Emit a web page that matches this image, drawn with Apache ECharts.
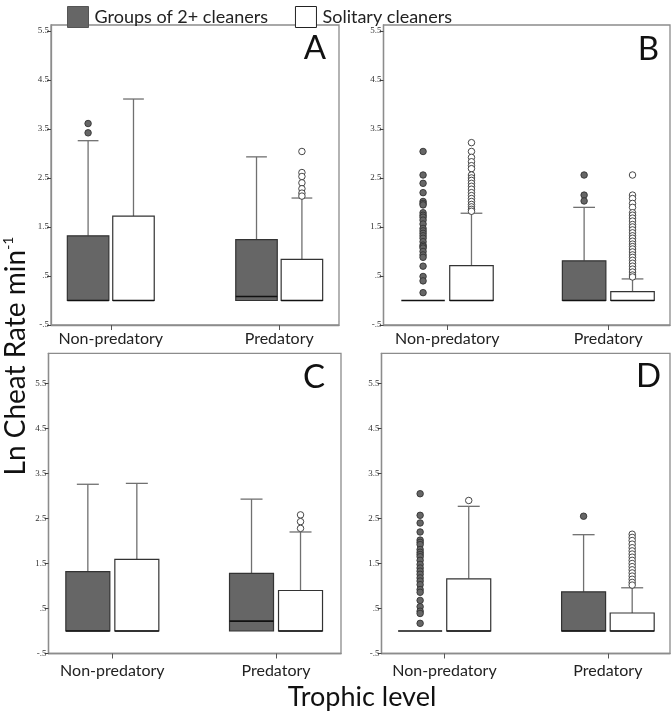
<!DOCTYPE html>
<html>
<head>
<meta charset="utf-8">
<script src="https://cdn.jsdelivr.net/npm/echarts@6/dist/echarts.min.js"></script>
<style>
  html, body { margin: 0; padding: 0; background: #fff; }
  #chart { width: 672px; height: 721px; }
</style>
</head>
<body>
<div id="chart"></div>
<script>
const categories = ['Non-predatory', 'Predatory']
const groups = ['Groups of 2+ cleaners', 'Solitary cleaners']
const yTicks = [-0.5, 0.5, 1.5, 2.5, 3.5, 4.5, 5.5]

// box stats: [whiskerLow, q1, median, q3, whiskerHigh], one row per category
const boxA_groups = [[0, 0, 0, 1.32, 3.26], [0, 0, 0.08, 1.24, 2.93]]
const boxA_solitary = [[0, 0, 0, 1.72, 4.11], [0, 0, 0, 0.84, 2.09]]
const outA_groups = [[3.61, 3.42], []]
const outA_solitary = [[], [3.04, 2.61, 2.53, 2.40, 2.28, 2.19, 2.13]]

const boxB_groups = [[0, 0, 0, 0, 0], [0, 0, 0, 0.81, 1.90]]
const boxB_solitary = [[0, 0, 0, 0.71, 1.78], [0, 0, 0, 0.18, 0.44]]
const outB_groups = [
  [3.04, 2.56, 2.39, 2.20, 2.02, 1.98, 1.95, 1.79, 1.74, 1.70, 1.64, 1.56, 1.47, 1.42,
   1.37, 1.32, 1.27, 1.20, 1.13, 1.10, 1.07, 1.00, 0.93, 0.88, 0.70, 0.49, 0.40, 0.16],
  [2.56, 2.15, 2.03]
]
const outB_solitary = [
  [3.22, 3.04, 2.92, 2.83, 2.75, 2.69, 2.56, 2.50, 2.45, 2.39, 2.33, 2.27, 2.20, 2.14,
   2.08, 2.02, 1.96, 1.91, 1.86, 1.82],
  [2.56, 2.15, 2.08, 1.98, 1.90, 1.79, 1.74, 1.68, 1.62, 1.55, 1.50, 1.44, 1.38, 1.32,
   1.27, 1.21, 1.15, 1.10, 1.05, 0.99, 0.93, 0.88, 0.82, 0.76, 0.70, 0.64, 0.58, 0.52, 0.48]
]

const boxC_groups = [[0, 0, 0, 1.32, 3.26], [0, 0, 0.22, 1.28, 2.93]]
const boxC_solitary = [[0, 0, 0, 1.59, 3.28], [0, 0, 0, 0.90, 2.20]]
const outC_groups = [[], []]
const outC_solitary = [[], [2.58, 2.43, 2.28]]

const boxD_groups = [[0, 0, 0, 0, 0], [0, 0, 0, 0.87, 2.14]]
const boxD_solitary = [[0, 0, 0, 1.16, 2.77], [0, 0, 0, 0.40, 0.96]]
const outD_groups = [
  [3.05, 2.57, 2.40, 2.20, 2.02, 1.97, 1.92, 1.81, 1.75, 1.70, 1.65, 1.57, 1.48, 1.40,
   1.33, 1.26, 1.18, 1.11, 1.03, 0.92, 0.86, 0.68, 0.54, 0.44, 0.39, 0.17],
  [2.55]
]
const outD_solitary = [
  [2.90],
  [2.15, 2.08, 2.01, 1.93, 1.85, 1.78, 1.71, 1.64, 1.57, 1.50, 1.43, 1.36, 1.29, 1.22,
   1.15, 1.08, 1.02]
]

const FONT = 'Lato, "Open Sans", sans-serif'
const COLORS = {
  groupFill: '#666666',
  soloFill: '#ffffff',
  boxLine: '#333333',
  whisker: '#707070',
  frame: '#8c8c8c',
}

// layout for each panel (pixels, axis ranges)
const panels = [
  { letter: 'A', left: 51, top: 25, width: 288, height: 300, xMin: 0.645, xMax: 2.355, yMax: 5.62,
    off: 22.7, bw: 41.5, labelMargin: 6, box: [boxA_groups, boxA_solitary], out: [outA_groups, outA_solitary],
    letterX: 326, letterY: 48 },
  { letter: 'B', left: 383.5, top: 25, width: 286.5, height: 300, xMin: 0.604, xMax: 2.383, yMax: 5.62,
    off: 24.2, bw: 43.5, labelMargin: 6, box: [boxB_groups, boxB_solitary], out: [outB_groups, outB_solitary],
    letterX: 659, letterY: 49 },
  { letter: 'C', left: 48.5, top: 353.3, width: 292.5, height: 300.2, xMin: 0.61, xMax: 2.397, yMax: 6.17,
    off: 24.5, bw: 44, labelMargin: 9, box: [boxC_groups, boxC_solitary], out: [outC_groups, outC_solitary],
    letterX: 325, letterY: 377 },
  { letter: 'D', left: 381.5, top: 353.3, width: 288.5, height: 300.2, xMin: 0.615, xMax: 2.38, yMax: 6.17,
    off: 24.3, bw: 44, labelMargin: 9, box: [boxD_groups, boxD_solitary], out: [outD_groups, outD_solitary],
    letterX: 661, letterY: 376 },
]

function boxRenderer(offset, bw, fill) {
  return function (params, api) {
    const x = api.value(0)
    const cx = api.coord([x, 0])[0] + offset
    const y = i => api.coord([x, api.value(i)])[1]
    const yLo = y(1), yQ1 = y(2), yMed = y(3), yQ3 = y(4), yHi = y(5)
    const half = bw / 2, cap = bw / 4
    const wStyle = { stroke: COLORS.whisker, lineWidth: 1.3 }
    const children = []
    if (yHi < yQ3 - 0.5) {
      children.push({ type: 'line', shape: { x1: cx, y1: yQ3, x2: cx, y2: yHi }, style: wStyle })
      children.push({ type: 'line', shape: { x1: cx - cap, y1: yHi, x2: cx + cap, y2: yHi }, style: wStyle })
    }
    if (yLo > yQ1 + 0.5) {
      children.push({ type: 'line', shape: { x1: cx, y1: yQ1, x2: cx, y2: yLo }, style: wStyle })
      children.push({ type: 'line', shape: { x1: cx - cap, y1: yLo, x2: cx + cap, y2: yLo }, style: wStyle })
    }
    if (yQ1 - yQ3 > 0.5) {
      children.push({ type: 'rect', shape: { x: cx - half, y: yQ3, width: bw, height: yQ1 - yQ3 },
        style: { fill: fill, stroke: COLORS.boxLine, lineWidth: 1.2 } })
    }
    children.push({ type: 'line', shape: { x1: cx - half, y1: yMed, x2: cx + half, y2: yMed }, style: { stroke: '#111', lineWidth: 1.6 } })
    return { type: 'group', children }
  }
}

const grid = [], xAxis = [], yAxis = [], series = [], graphic = []

panels.forEach((p, i) => {
  grid.push({ left: p.left, top: p.top, width: p.width, height: p.height, show: true,
    borderColor: COLORS.frame, borderWidth: 1.3, backgroundColor: '#fff' })
  xAxis.push({
    type: 'value', gridIndex: i, min: p.xMin, max: p.xMax,
    axisLine: { show: true, onZero: false, lineStyle: { color: COLORS.frame, width: 1.3 } },
    axisTick: { show: true, customValues: [1, 2], length: 5, lineStyle: { color: '#555' } },
    axisLabel: { customValues: [1, 2], formatter: v => categories[Math.round(v) - 1] || '',
      fontFamily: FONT, fontSize: 16, color: '#222', margin: p.labelMargin },
    splitLine: { show: false },
  })
  yAxis.push({
    type: 'value', gridIndex: i, min: -0.5, max: p.yMax,
    axisLine: { show: true, lineStyle: { color: COLORS.frame, width: 1.3 } },
    axisTick: { show: true, customValues: yTicks, length: 4, lineStyle: { color: '#444' } },
    axisLabel: { customValues: yTicks, formatter: v => String(v).replace('0.', '.'),
      fontFamily: '"Liberation Serif", serif', fontSize: 9, color: '#333', margin: 2 },
    splitLine: { show: false },
  })
  const fills = [COLORS.groupFill, COLORS.soloFill]
  const offs = [-p.off, p.off]
  groups.forEach((g, gi) => {
    series.push({
      name: g, type: 'custom', xAxisIndex: i, yAxisIndex: i,
      renderItem: boxRenderer(offs[gi], p.bw, fills[gi]),
      data: p.box[gi].map((b, ci) => [ci + 1].concat(b)),
      encode: { x: 0, y: [1, 2, 3, 4, 5] }, silent: true, z: 2,
    })
    const pts = []
    p.out[gi].forEach((vals, ci) => vals.forEach(v => pts.push([ci + 1, v])))
    series.push({
      name: g, type: 'scatter', xAxisIndex: i, yAxisIndex: i, data: pts,
      symbol: 'circle', symbolSize: 6.5, symbolOffset: [offs[gi], 0], silent: true, z: 3,
      itemStyle: { color: gi === 0 ? COLORS.groupFill : '#fff', borderColor: '#333', borderWidth: 0.9, opacity: 1 },
    })
  })
  graphic.push({ type: 'text', x: p.letterX, y: p.letterY,
    style: { text: p.letter, fontFamily: FONT, fontSize: 33, fill: '#111', align: 'right', verticalAlign: 'middle' } })
})

graphic.push({ type: 'text', x: 16, y: 356, rotation: Math.PI / 2,
  style: { text: '{a|Ln Cheat Rate min}{s|-1}', align: 'center', verticalAlign: 'middle',
    rich: { a: { fontFamily: FONT, fontSize: 28, fill: '#111' },
            s: { fontFamily: FONT, fontSize: 14, fill: '#111', padding: [0, 0, 16, 0] } } } })
graphic.push({ type: 'text', x: 362, y: 697,
  style: { text: 'Trophic level', fontFamily: FONT, fontSize: 27, fill: '#111', align: 'center', verticalAlign: 'middle' } })

const chart = echarts.init(document.getElementById('chart'), null, { renderer: 'canvas' })
chart.setOption({
  animation: false,
  backgroundColor: '#fff',
  legend: {
    left: 62, top: 1, itemWidth: 21, itemHeight: 21, itemGap: 27, selectedMode: false,
    textStyle: { fontFamily: FONT, fontSize: 18, color: '#222', padding: [0, 0, 0, 1] },
    data: [
      { name: groups[0], icon: 'rect', itemStyle: { color: COLORS.groupFill, borderColor: '#555', borderWidth: 1 } },
      { name: groups[1], icon: 'rect', itemStyle: { color: '#fff', borderColor: '#222', borderWidth: 1 } },
    ],
  },
  grid, xAxis, yAxis, series, graphic,
})
</script>
</body>
</html>
